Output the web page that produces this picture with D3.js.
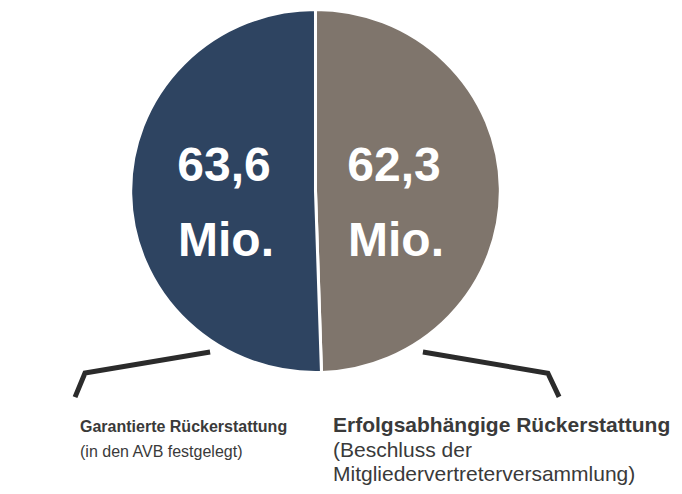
<!DOCTYPE html>
<html>
<head>
<meta charset="utf-8">
<script src="https://cdn.jsdelivr.net/npm/d3@7"></script>
<style>
  body { margin: 0; background: #fff; }
  svg { display: block; font-family: "Liberation Sans", Arial, sans-serif; }
</style>
</head>
<body>
<div id="chart"></div>
<script>
// data
const categories = ["Erfolgsabhängige Rückerstattung", "Garantierte Rückerstattung"];
const values = [62.3, 63.6];
const valueLabels = ["62,3", "63,6"];
const unitLabel = "Mio.";
const subLabels = [
  ["(Beschluss der", "Mitgliedervertreterversammlung)"],
  ["(in den AVB festgelegt)"]
];
const colors = ["#7f756c", "#2e4461"];

const width = 682, height = 494;
const cx = 315.5, cy = 191, radius = 183;

const svg = d3.select("#chart").append("svg")
    .attr("width", width)
    .attr("height", height);

const pie = d3.pie().sort(null).value(d => d);
const arcs = pie(values);

const arc = d3.arc().innerRadius(0).outerRadius(radius);
const labelArc = d3.arc().innerRadius(85).outerRadius(85);

const g = svg.append("g").attr("transform", `translate(${cx},${cy}) scale(1.01,0.992)`);

g.selectAll("path.slice")
    .data(arcs)
    .enter()
    .append("path")
    .attr("class", "slice")
    .attr("d", arc)
    .attr("fill", (d, i) => colors[i])
    .attr("stroke", "#fff")
    .attr("stroke-width", 3)
    .attr("stroke-linejoin", "round");

// big numbers inside slices
const inner = svg.append("g").attr("transform", `translate(${cx - 6.5},${cy})`);
arcs.forEach((d, i) => {
  const x = labelArc.centroid(d)[0];
  const t = inner.append("text")
      .attr("text-anchor", "middle")
      .attr("fill", "#fff")
      .attr("font-weight", "bold")
      .attr("font-size", 48);
  t.append("tspan").attr("x", x).attr("y", -10).text(valueLabels[i]);
  t.append("tspan").attr("x", x + 2).attr("y", 65).text(unitLabel);
});

// leader lines (polar: angle in degrees clockwise from top, distance from pie centre)
const leaders = [
  [[146.3, 193.6], [128.1, 295.3], [130.2, 318.9]],
  [[213.2, 192.5], [231.7, 293.7], [229.4, 316.7]]
];
const toXY = p => {
  const a = p[0] * Math.PI / 180;
  return [cx + p[1] * Math.sin(a), cy - p[1] * Math.cos(a)];
};
const line = d3.line();
svg.selectAll("path.leader")
    .data(leaders)
    .enter()
    .append("path")
    .attr("class", "leader")
    .attr("d", d => line(d.map(toXY)))
    .attr("fill", "none")
    .attr("stroke", "#2b2b2b")
    .attr("stroke-width", 5);

// labels below
const labelX = [333, 80];
const labelSize = [21, 16];
categories.forEach((c, i) => {
  const t = svg.append("text")
      .attr("fill", "#3a3a3a")
      .attr("font-size", labelSize[i]);
  t.append("tspan").attr("x", labelX[i]).attr("y", 432)
      .attr("font-weight", "bold").text(c);
  subLabels[i].forEach((s, j) => {
    t.append("tspan").attr("x", labelX[i]).attr("y", 457 + j * 24).text(s);
  });
});
</script>
</body>
</html>
